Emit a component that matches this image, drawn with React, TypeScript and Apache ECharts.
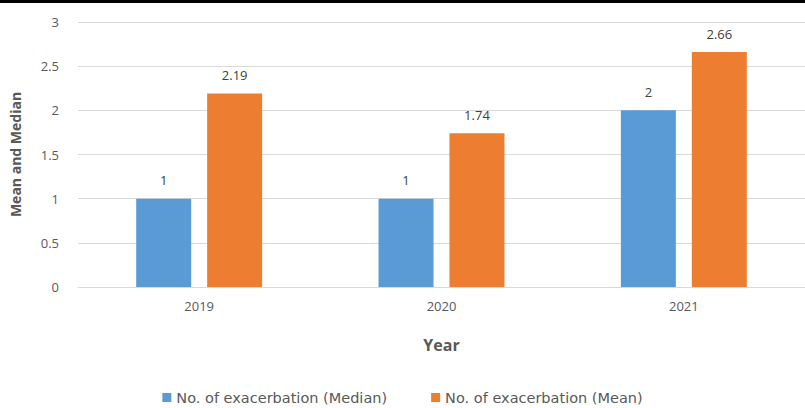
import React, { useEffect, useRef } from "react";
import * as echarts from "echarts";

const categories = ["2019", "2020", "2021"];
const medianValues = [1, 1, 2];
const meanValues = [2.19, 1.74, 2.66];
const seriesNames = ["No. of exacerbation (Median)", "No. of exacerbation (Mean)"];

export default function App() {
  const ref = useRef<HTMLDivElement>(null);
  useEffect(() => {
    if (!ref.current) return;
    const chart = echarts.init(ref.current, undefined, { renderer: "svg" });
    const font = "'Open Sans', 'Liberation Sans', sans-serif";
    chart.setOption({
      animation: false,
      backgroundColor: "#ffffff",
      textStyle: { fontFamily: font },
      grid: { left: 76, right: 0, top: 22, bottom: 121, containLabel: false },
      graphic: [
        { type: "rect", left: 0, top: 0, shape: { width: 805, height: 3 }, style: { fill: "#000" } },
      ],
      legend: {
        bottom: -2,
        left: "center",
        itemWidth: 9,
        itemHeight: 9,
        itemGap: 44,
        icon: "rect",
        textStyle: { color: "#595959", fontSize: 14.5, fontFamily: "'DejaVu Sans', sans-serif" },
        data: seriesNames,
      },
      xAxis: {
        type: "category",
        data: categories,
        name: "Year",
        nameLocation: "middle",
        nameGap: 50,
        nameTextStyle: { fontWeight: "bold", fontSize: 16, color: "#595959" },
        axisLine: { lineStyle: { color: "#d9d9d9" } },
        axisTick: { show: false },
        axisLabel: { color: "#595959", fontSize: 13, margin: 12 },
      },
      yAxis: {
        type: "value",
        min: 0,
        max: 3,
        interval: 0.5,
        name: "Mean and Median",
        nameLocation: "middle",
        nameGap: 56,
        nameTextStyle: { fontWeight: "bold", fontSize: 14, color: "#595959" },
        axisLine: { show: false },
        axisTick: { show: false },
        axisLabel: { color: "#595959", fontSize: 13, margin: 19 },
        splitLine: { lineStyle: { color: "#d9d9d9" } },
      },
      series: [
        {
          name: seriesNames[0],
          type: "bar",
          data: medianValues,
          barWidth: 55,
          barGap: "29%",
          itemStyle: { color: "#5B9BD5" },
          label: { show: true, position: "top", distance: 12, color: "#404040", fontSize: 13 },
        },
        {
          name: seriesNames[1],
          type: "bar",
          data: meanValues,
          barWidth: 55,
          barGap: "29%",
          itemStyle: { color: "#ED7D31" },
          label: { show: true, position: "top", distance: 12, color: "#404040", fontSize: 13 },
        },
      ],
    });
    return () => chart.dispose();
  }, []);
  return (
    <div
      ref={ref}
      style={{ position: "fixed", left: 0, top: 0, width: 805, height: 408 }}
    />
  );
}
